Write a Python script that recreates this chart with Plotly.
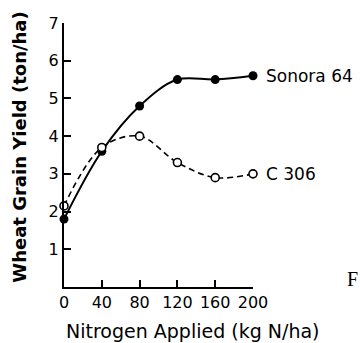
import plotly.graph_objects as go

# Nitrogen rate (kg N/ha) and grain yield (ton/ha) for two wheat cultivars
nitrogen = [0, 40, 80, 120, 160, 200]
sonora_64 = [1.8, 3.6, 4.8, 5.5, 5.5, 5.6]
c_306 = [2.15, 3.7, 4.0, 3.3, 2.9, 3.0]
series_names = ["Sonora 64", "C 306"]
x_ticks = [0, 40, 80, 120, 160, 200]
y_ticks = [1, 2, 3, 4, 5, 6, 7]

FONT = "DejaVu Sans"

fig = go.Figure()

fig.add_trace(go.Scatter(
    x=nitrogen, y=sonora_64, mode="lines+markers",
    line=dict(color="black", width=2, shape="spline", smoothing=1.0),
    marker=dict(symbol="circle", size=9, color="black"),
    cliponaxis=False, showlegend=False,
))
fig.add_trace(go.Scatter(
    x=nitrogen, y=c_306, mode="lines+markers",
    line=dict(color="black", width=1.6, dash="6px,4px", shape="spline", smoothing=1.0),
    marker=dict(symbol="circle", size=8, color="white",
                line=dict(color="black", width=1.6)),
    cliponaxis=False, showlegend=False,
))

# End-of-line series labels
for name, ys in zip(series_names, [sonora_64, c_306]):
    fig.add_annotation(
        x=nitrogen[-1], y=ys[-1], xref="x", yref="y",
        text=name, showarrow=False, xanchor="left", yanchor="middle",
        xshift=11, font=dict(family=FONT, size=17, color="black"),
    )

# Axis titles
fig.add_annotation(
    x=-0.24, y=0.53, xref="paper", yref="paper",
    text="<b>Wheat Grain Yield (ton/ha)</b>", textangle=-90, showarrow=False,
    xanchor="center", yanchor="middle",
    font=dict(family=FONT, size=18, color="black"),
)
fig.add_annotation(
    x=0.68, y=-0.165, xref="paper", yref="paper",
    text="Nitrogen Applied (kg N/ha)", showarrow=False,
    xanchor="center", yanchor="middle",
    font=dict(family=FONT, size=19, color="black"),
)
fig.add_annotation(
    x=1.527, y=0.03, xref="paper", yref="paper",
    text="F", showarrow=False, xanchor="center", yanchor="middle",
    font=dict(family="Liberation Serif", size=20, color="black"),
)

fig.update_xaxes(
    range=[0, 200], tickvals=x_ticks, ticks="inside", ticklen=7,
    tickcolor="black", tickwidth=1.5, showline=True, linecolor="black",
    linewidth=1.5, showgrid=False, zeroline=False,
    tickfont=dict(family=FONT, size=16, color="black"),
)
fig.update_yaxes(
    range=[0, 7], tickvals=y_ticks, ticks="inside", ticklen=7,
    tickcolor="black", tickwidth=1.5, showline=True, linecolor="black",
    linewidth=2, showgrid=False, zeroline=False,
    tickfont=dict(family=FONT, size=16, color="black"),
)

fig.update_layout(
    width=360, height=343,
    margin=dict(l=64, r=107, t=23, b=56),
    paper_bgcolor="white", plot_bgcolor="white",
)

fig.write_html("out.html")
